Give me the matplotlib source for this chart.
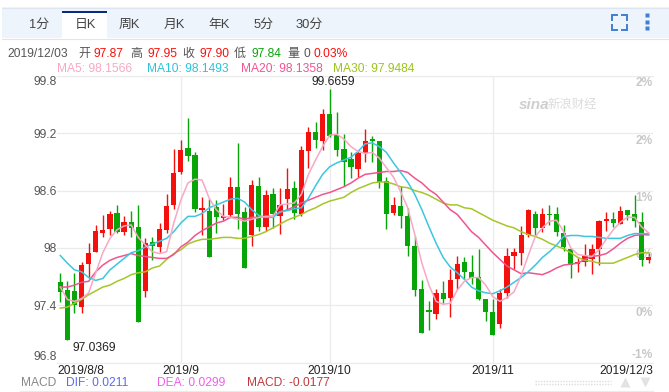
import matplotlib
matplotlib.use('Agg')
import matplotlib.pyplot as plt
import numpy as np
from matplotlib.patches import Rectangle

plt.rcParams['font.family'] = ['Liberation Sans', 'Noto Sans CJK SC', 'DejaVu Sans']

# daily candles, 2019/8/8 - 2019/12/3
opens = [97.64, 97.56, 97.55, 97.38, 97.83, 97.96, 98.16, 98.20, 98.37, 98.17, 98.27, 98.22,
         97.55, 98.06, 98.01, 98.19, 98.45, 98.79, 99.05, 98.97, 98.40, 98.39, 98.43, 98.31,
         98.34, 98.64, 98.38, 98.13, 98.65, 98.22, 98.56, 98.33, 98.51, 98.63, 98.35, 99.01,
         99.21, 99.12, 99.40, 99.18, 99.04, 98.93, 98.83, 98.99, 99.14, 99.12, 98.70, 98.37,
         98.44, 98.33, 98.02, 97.57, 97.35, 97.31, 97.53, 97.48, 97.67, 97.85, 97.75, 97.70,
         97.47, 97.33, 97.20, 97.53, 97.92, 97.95, 98.14, 98.35, 98.21, 98.36, 98.36, 98.16,
         97.99, 97.83, 97.85, 97.88, 97.99, 98.28, 98.30, 98.25, 98.40, 98.35, 98.27, 97.87]
highs = [97.74, 97.65, 97.74, 97.85, 98.05, 98.24, 98.34, 98.39, 98.45, 98.33, 98.39, 98.45,
         98.10, 98.11, 98.26, 98.56, 99.04, 99.13, 99.36, 99.00, 98.53, 98.51, 98.50, 98.46,
         98.74, 99.10, 98.43, 98.71, 98.74, 98.61, 98.63, 98.63, 98.84, 98.70, 99.07, 99.27,
         99.32, 99.45, 99.6659, 99.42, 99.19, 99.00, 99.03, 99.25, 99.17, 99.12, 98.74, 98.53,
         98.65, 98.42, 98.12, 97.66, 97.44, 97.57, 97.65, 97.78, 97.91, 97.90, 97.93, 97.99,
         97.47, 97.46, 97.57, 98.00, 98.00, 98.23, 98.41, 98.39, 98.42, 98.45, 98.43, 98.24,
         98.00, 97.89, 98.04, 98.04, 98.29, 98.38, 98.38, 98.44, 98.40, 98.55, 98.38, 97.95]
lows = [97.43, 97.0369, 97.32, 97.32, 97.69, 97.96, 98.11, 98.14, 98.16, 98.14, 98.11, 97.22,
        97.49, 97.87, 97.96, 98.16, 98.41, 98.77, 98.91, 98.38, 98.14, 97.90, 98.16, 98.29,
        98.32, 98.20, 97.79, 98.02, 98.18, 98.18, 98.21, 98.15, 98.40, 98.30, 98.33, 98.84,
        99.05, 99.03, 99.16, 98.96, 98.65, 98.73, 98.74, 98.90, 98.90, 98.63, 98.20, 98.34,
        98.21, 97.91, 97.50, 97.11, 97.14, 97.26, 97.42, 97.28, 97.57, 97.67, 97.62, 97.45,
        97.23, 97.09, 97.16, 97.48, 97.78, 97.82, 98.11, 98.14, 98.17, 98.24, 98.12, 97.97,
        97.68, 97.75, 97.81, 97.73, 97.82, 98.18, 98.22, 98.25, 98.29, 98.22, 97.81, 97.84]
closes = [97.54, 97.04, 97.40, 97.82, 97.95, 98.18, 98.19, 98.36, 98.17, 98.27, 98.21, 97.22,
          98.05, 98.02, 98.20, 98.44, 98.78, 99.03, 98.96, 98.41, 98.42, 97.90, 98.32, 98.33,
          98.64, 98.36, 97.79, 98.66, 98.22, 98.55, 98.36, 98.45, 98.62, 98.37, 99.02, 99.21,
          99.13, 99.40, 99.17, 99.02, 98.90, 98.85, 98.99, 99.12, 99.12, 98.69, 98.35, 98.45,
          98.33, 98.02, 97.56, 97.11, 97.33, 97.53, 97.46, 97.66, 97.83, 97.75, 97.69, 97.47,
          97.33, 97.09, 97.53, 97.92, 97.96, 98.13, 98.40, 98.21, 98.35, 98.34, 98.17, 98.01,
          97.82, 97.85, 97.91, 97.99, 98.28, 98.30, 98.26, 98.39, 98.34, 98.28, 97.87, 97.90]

ma5 = [97.59, 97.46, 97.44, 97.47, 97.53, 97.74, 97.95, 98.10, 98.19, 98.23, 98.24, 98.11,
       98.03, 97.96, 97.94, 97.96, 98.26, 98.50, 98.68, 98.72, 98.71, 98.52, 98.40, 98.33,
       98.32, 98.30, 98.28, 98.30, 98.32, 98.33, 98.33, 98.45, 98.46, 98.47, 98.56, 98.77,
       98.92, 99.06, 99.18, 99.19, 99.14, 99.06, 99.01, 98.99, 99.00, 98.94, 98.84, 98.74,
       98.59, 98.42, 98.14, 97.84, 97.61, 97.44, 97.41, 97.42, 97.56, 97.65, 97.69, 97.69,
       97.61, 97.49, 97.44, 97.48, 97.54, 97.71, 97.92, 98.12, 98.21, 98.28, 98.29, 98.17,
       98.00, 97.93, 97.92, 97.91, 97.98, 98.09, 98.19, 98.27, 98.32, 98.32, 98.22, 98.1566]
ma10 = [97.92, 97.84, 97.77, 97.75, 97.69, 97.66, 97.68, 97.77, 97.83, 97.89, 97.95, 97.97,
        98.01, 98.04, 98.07, 98.10, 98.17, 98.26, 98.33, 98.33, 98.36, 98.42, 98.45, 98.48,
        98.51, 98.52, 98.48, 98.40, 98.34, 98.32, 98.32, 98.38, 98.39, 98.41, 98.42, 98.52,
        98.65, 98.77, 98.85, 98.89, 98.92, 98.95, 99.01, 99.09, 99.10, 99.06, 99.00, 98.89,
        98.79, 98.69, 98.56, 98.40, 98.22, 98.05, 97.90, 97.80, 97.74, 97.67, 97.59, 97.55,
        97.53, 97.52, 97.55, 97.59, 97.64, 97.69, 97.75, 97.82, 97.90, 97.96, 98.03, 98.12,
        98.13, 98.13, 98.12, 98.12, 98.11, 98.10, 98.10, 98.10, 98.13, 98.15, 98.15, 98.1493]
ma20 = [97.59, 97.59, 97.61, 97.64, 97.65, 97.75, 97.82, 97.87, 97.90, 97.92, 97.94, 97.92,
        97.91, 97.90, 97.89, 97.89, 97.93, 98.01, 98.06, 98.13, 98.18, 98.22, 98.26, 98.28,
        98.32, 98.32, 98.30, 98.32, 98.32, 98.33, 98.33, 98.37, 98.40, 98.43, 98.47, 98.50,
        98.53, 98.56, 98.58, 98.61, 98.64, 98.68, 98.73, 98.77, 98.78, 98.79, 98.80, 98.80,
        98.81, 98.79, 98.73, 98.68, 98.61, 98.56, 98.48, 98.40, 98.35, 98.26, 98.17, 98.11,
        98.03, 97.95, 97.88, 97.81, 97.77, 97.73, 97.74, 97.73, 97.72, 97.75, 97.79, 97.82,
        97.83, 97.84, 97.88, 97.91, 97.92, 97.94, 97.99, 98.05, 98.10, 98.13, 98.14, 98.1358]
ma30 = [97.37, 97.38, 97.42, 97.46, 97.51, 97.55, 97.59, 97.61, 97.65, 97.68, 97.72, 97.74,
        97.75, 97.79, 97.81, 97.88, 97.94, 97.98, 98.04, 98.07, 98.09, 98.09, 98.10, 98.11,
        98.11, 98.10, 98.10, 98.12, 98.14, 98.17, 98.21, 98.25, 98.29, 98.32, 98.35, 98.39,
        98.42, 98.46, 98.49, 98.51, 98.53, 98.58, 98.62, 98.65, 98.68, 98.69, 98.69, 98.67,
        98.64, 98.63, 98.60, 98.58, 98.55, 98.51, 98.47, 98.45, 98.45, 98.42, 98.41, 98.37,
        98.33, 98.29, 98.26, 98.23, 98.21, 98.17, 98.14, 98.12, 98.09, 98.05, 98.02, 97.99,
        97.95, 97.90, 97.87, 97.86, 97.84, 97.84, 97.84, 97.87, 97.90, 97.93, 97.95, 97.9484]

price_ticks = [96.8, 97.4, 98.0, 98.6, 99.2, 99.8]
price_labels = ['96.8', '97.4', '98', '98.6', '99.2', '99.8']
pct_labels = ['-1%', '0%', '0%', '1%', '2%', '2%']
month_ticks = [17, 38, 61]
month_labels = ['2019/9', '2019/10', '2019/11']
tabs = ['1分', '日K', '周K', '月K', '年K', '5分', '30分']

RED = '#f4100c'
GREEN = '#08a508'
GRID = '#ebebeb'
TEXT = '#555555'
DATE = '#222222'
SZ = 8.64

fig = plt.figure(figsize=(6.69, 3.92), dpi=100)

# page furniture in pixel coordinates
bg = fig.add_axes([0, 0, 1, 1])
bg.set_xlim(0, 669)
bg.set_ylim(392, 0)
bg.axis('off')

bg.add_patch(Rectangle((2, 7), 667, 31, fc='#eef4fc', ec='none'))
bg.plot([2, 669], [7.5, 7.5], color='#dde5f0', lw=0.8)
bg.plot([2, 669], [38.5, 38.5], color='#dde5f0', lw=0.8)
bg.add_patch(Rectangle((62, 12), 45, 27, fc='white', ec='none', zorder=2))
bg.add_patch(Rectangle((62, 11), 45, 2, fc='#0b2a80', ec='none', zorder=3))
for tab, cx in zip(tabs, [39, 85, 129, 174, 219, 264, 309]):
    bg.text(cx, 25, tab, ha='center', va='center', fontsize=9.3, color='#444444', zorder=4)

# fullscreen corners and menu dots
ICON = '#3f7fd0'
for cx, cy, dx, dy in [(611.5, 14.5, 1, 1), (626.5, 14.5, -1, 1), (611.5, 29.5, 1, -1), (626.5, 29.5, -1, -1)]:
    bg.plot([cx + 5 * dx, cx, cx], [cy, cy, cy + 5 * dy], color=ICON, lw=1.4, solid_joinstyle='miter')
bg.plot([646.5] * 3, [15, 22, 28], ls='none', marker='s', ms=3, color=ICON, mec='none')

# header line with the last bar
header = [(7, '2019/12/03', TEXT), (78, '开', TEXT), (94, '97.87', RED), (130, '高', TEXT),
          (147, '97.95', RED), (182, '收', TEXT), (199, '97.90', RED), (234, '低', TEXT),
          (251, '97.84', GREEN), (287, '量', TEXT), (303, '0', TEXT), (314, '0.03%', RED)]
for px, s, c in header:
    bg.text(px, 53.5, s, ha='left', va='center', fontsize=SZ, color=c)

legend = [(57, 'MA5: 98.1566', '#f8a8c4'), (147, 'MA10: 98.1493', '#2cc3dc'),
          (241, 'MA20: 98.1358', '#f0558f'), (333, 'MA30: 97.9484', '#9cc41c')]
for px, s, c in legend:
    bg.text(px, 68.5, s, ha='left', va='center', fontsize=SZ, color=c)

# watermark
bg.text(519, 105, 'sina', ha='left', va='center', fontsize=11, fontweight='bold', style='italic', color='#cfcfcf')
bg.text(548, 105, '新浪财经', ha='left', va='center', fontsize=8.9, color='#dcdcdc')

# macd line under the chart
macd = [(21, 'MACD', '#888888'), (66, 'DIF: 0.0211', '#5b6cf0'), (157, 'DEA: 0.0299', '#f060e8'),
        (247, 'MACD: -0.0177', '#c0393c')]
for px, s, c in macd:
    bg.text(px, 382.5, s, ha='left', va='center', fontsize=SZ, color=c)
bg.plot([20, 653], [390.5, 390.5], color=GRID, lw=0.8)

# scroller handle
bg.plot([535, 611], [380.5, 380.5], color='#dddddd', lw=1, ls=(0, (1, 1)))
bg.plot([535, 611], [383.5, 383.5], color='#dddddd', lw=1, ls=(0, (1, 1)))
bg.plot([625], [382], marker='^', ms=7, color='#e3e3e3', mec='none', ls='none')
bg.plot([645], [382], marker='v', ms=7, color='#e3e3e3', mec='none', ls='none')

# price chart
ax = fig.add_axes([57 / 669, (392 - 362.5) / 392, 596 / 669, 286.5 / 392])
ax.patch.set_alpha(0)
ax.set_xlim(-0.465, 83.6)
ax.set_ylim(96.8, 99.8)

for s in ['left', 'right']:
    ax.spines[s].set_visible(False)
for s in ['top', 'bottom']:
    ax.spines[s].set_color(GRID)
    ax.spines[s].set_linewidth(0.8)

ax.set_yticks(price_ticks)
ax.set_yticklabels(price_labels, fontsize=SZ, color=TEXT)
ax.set_xticks(month_ticks)
ax.set_xticklabels(month_labels, fontsize=SZ, color=DATE)
ax.tick_params(length=0)
ax.tick_params(axis='y', pad=0)
ax.tick_params(axis='x', pad=2)
ax.grid(True, color=GRID, lw=0.9)
ax.set_axisbelow(True)
ax.get_yticklabels()[0].set_va('bottom')
ax.get_yticklabels()[-1].set_va('top')

# first and last date sit against the axis ends
ax.annotate('2019/8/8', xy=(0, 0), xycoords='axes fraction', xytext=(0, -2), textcoords='offset points',
            ha='left', va='top', fontsize=SZ, color=DATE)
ax.annotate('2019/12/3', xy=(1, 0), xycoords='axes fraction', xytext=(0, -2), textcoords='offset points',
            ha='right', va='top', fontsize=SZ, color=DATE)

# percent scale on the right, just under each grid line
ytrans = ax.get_yaxis_transform()
for tick, lab in zip(price_ticks, pct_labels):
    va = 'bottom' if tick == price_ticks[0] else 'top'
    off = 1 if tick == price_ticks[0] else -1
    ax.annotate(lab, xy=(1, tick), xycoords=ytrans, xytext=(0, off), textcoords='offset points',
                ha='right', va=va, fontsize=SZ, color='#c8c8c8', fontweight='bold')

x = np.arange(len(closes))
o = np.array(opens)
c = np.array(closes)
colors = [RED if b >= a else GREEN for a, b in zip(opens, closes)]
ax.vlines(x, lows, highs, colors=colors, lw=1.0, zorder=2)
ax.bar(x, np.abs(c - o), width=0.74, bottom=np.minimum(o, c), color=colors, zorder=3)

for vals, col in [(ma30, '#a5c62a'), (ma20, '#f0558f'), (ma10, '#3cc6e0'), (ma5, '#f8a8c4')]:
    ax.plot(x, vals, color=col, lw=1.1, zorder=4, solid_joinstyle='round')

ax.annotate('99.6659', xy=(38, 99.6659), xytext=(2.5, 0.5), textcoords='offset points',
            ha='center', va='bottom', fontsize=SZ, color=DATE, zorder=5)
ax.annotate('97.0369', xy=(1, 97.0369), xytext=(3.6, -1.5), textcoords='offset points',
            ha='left', va='top', fontsize=SZ, color=DATE, zorder=5)

fig.savefig('out.png', dpi=100)
